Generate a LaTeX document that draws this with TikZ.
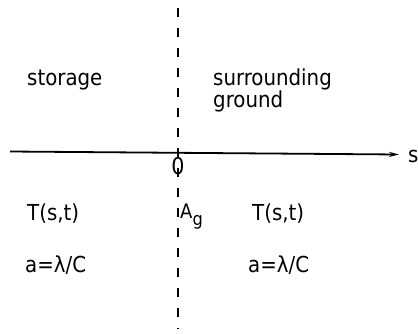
\documentclass[tikz,border=0pt]{standalone}
\usepackage{fontspec}
\setmainfont{DejaVu Sans Condensed}
\usetikzlibrary{arrows.meta}
\begin{document}
\begin{tikzpicture}[x=1pt,y=-1pt,
  lbl/.style={anchor=base west,inner sep=0pt,font=\fontsize{22}{26}\selectfont},
  axis/.style={line width=1.8pt,-{Stealth[length=10pt,width=5pt]}},
  iface/.style={line width=1.8pt,dash pattern=on 9pt off 11pt}]
\useasboundingbox (0,0) rectangle (418,333);
\coordinate (vtop) at (178,8);
\coordinate (vbot) at (178,329);
\coordinate (hl) at (10,151.5);
\coordinate (hr) at (399,154.5);
\draw[iface] (vtop) -- (vbot);
\draw[axis] (hl) -- (hr);
\node[lbl] (stor) at (27,85) {storage};
\node[lbl] (surr) at (213,85) {surrounding};
\node[lbl] (grnd) at (213,107) {ground};
\node[anchor=center,inner sep=0pt,font=\fontsize{23}{26}\selectfont] (zero) at (178,166.5) {0};
\node[lbl] (s) at (408,162) {s};
\node[lbl] (Tl) at (27,220) {T(s,t)};
\node[lbl] (Tr) at (252,220) {T(s,t)};
\node[lbl,font=\fontsize{20}{24}\selectfont] (Ag) at (180,218) {A\raisebox{-7pt}{\fontsize{18}{18}\selectfont g}};
\node[lbl] (al) at (25,272) {a=λ/C};
\node[lbl] (ar) at (248,272) {a=λ/C};
\end{tikzpicture}
\end{document}
